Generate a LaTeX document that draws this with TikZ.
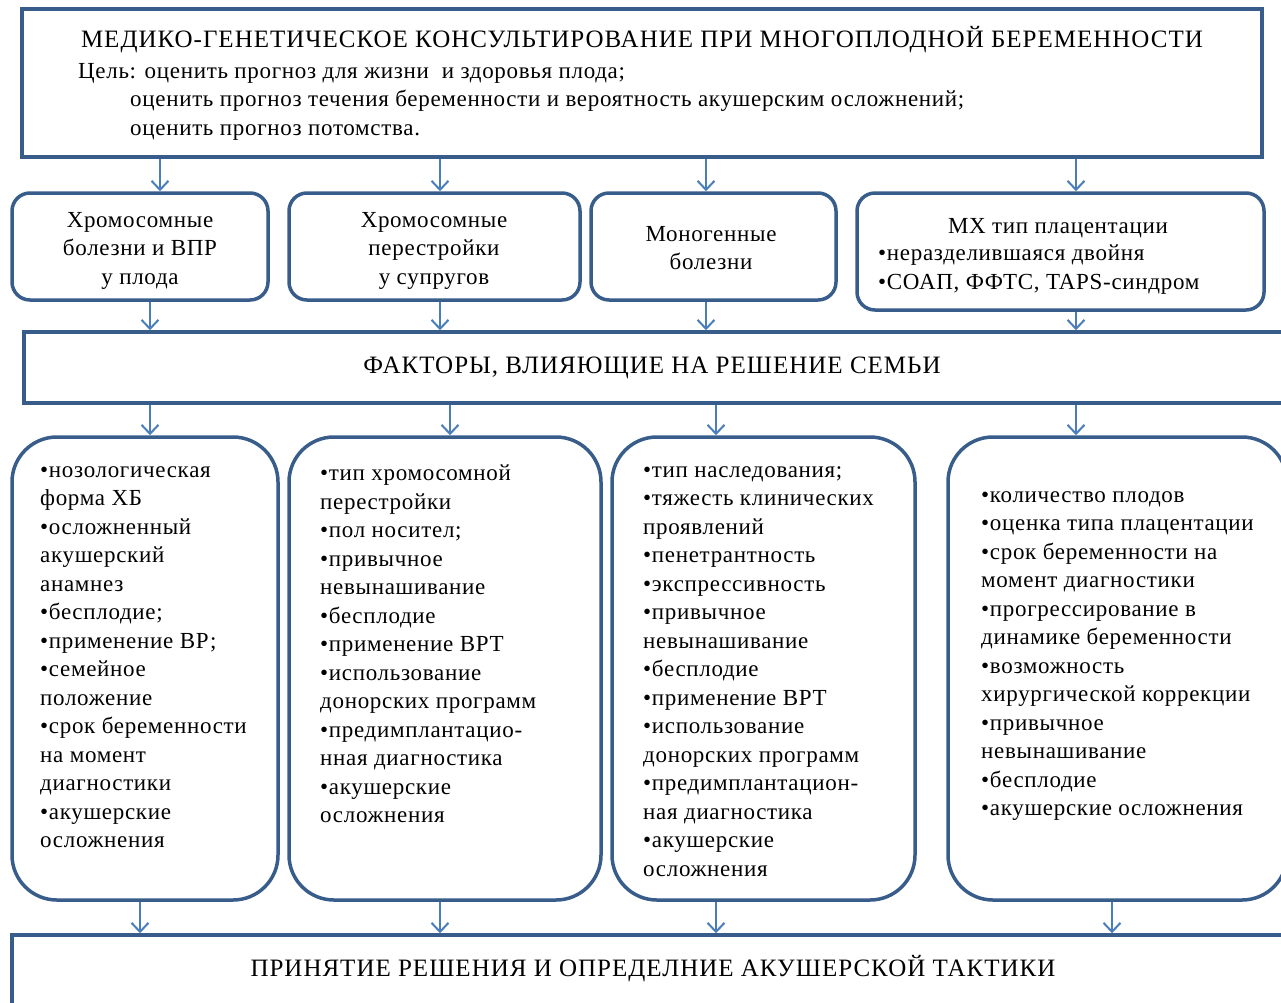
\documentclass[tikz,border=0pt]{standalone}
\usepackage{fontspec}
\setmainfont{Liberation Serif}
\newfontfamily\boxfont[LetterSpace=3]{Liberation Serif}
\newfontfamily\headfont[LetterSpace=4]{Liberation Serif}
\usetikzlibrary{arrows.meta}
\definecolor{boxline}{RGB}{56,93,138}
\definecolor{arrowline}{RGB}{74,126,187}

\tikzset{
  plainbox/.style={draw=boxline, line width=3.5pt, fill=white, rectangle, inner sep=0pt},
  roundbox/.style={plainbox, rounded corners=18pt},
  bigbox/.style={plainbox, rounded corners=45pt},
  txt/.style={inner sep=0pt, font=\boxfont\fontsize{23}{28.5}\selectfont, align=left, execute at begin node=\strut},
  ctxt/.style={txt, align=center},
  head/.style={inner sep=0pt, font=\headfont\fontsize{25}{28.5}\selectfont},
  arr/.style={draw=arrowline, line width=2pt, -{Straight Barb[length=9pt,width=17pt]}}
}

\begin{document}
\begin{tikzpicture}[x=1pt, y=-1pt]
    \useasboundingbox (0,0) rectangle (1281,1002);

    % First, locate each of the boxes and name them
        \node[plainbox, minimum width=1240pt, minimum height=148pt] (top) at (642,83) {};
        \node[roundbox, minimum width=256pt, minimum height=107pt] (fetus) at (140,246.5) {};
        \node[roundbox, minimum width=291pt, minimum height=107pt] (spouses) at (434.5,246.5) {};
        \node[roundbox, minimum width=245pt, minimum height=107pt] (mono) at (713.5,246.5) {};
        \node[roundbox, minimum width=407pt, minimum height=117pt] (mc) at (1060.5,251.5) {};
        \node[plainbox, minimum width=1276pt, minimum height=71pt] (factors) at (662,367.5) {};
        \node[bigbox, minimum width=266pt, minimum height=463pt] (fone) at (145,668.5) {};
        \node[bigbox, minimum width=312pt, minimum height=463pt] (ftwo) at (445,668.5) {};
        \node[bigbox, minimum width=303pt, minimum height=463pt] (fthree) at (763.5,668.5) {};
        \node[bigbox, minimum width=339pt, minimum height=463pt] (ffour) at (1117.5,668.5) {};
        \node[plainbox, minimum width=1288pt, minimum height=85pt] (decision) at (656,977.5) {};

    % Then the texts inside them
        \node[head] (toptitle) at (642,40) {МЕДИКО-ГЕНЕТИЧЕСКОЕ КОНСУЛЬТИРОВАНИЕ ПРИ МНОГОПЛОДНОЙ БЕРЕМЕННОСТИ};
        \node[txt, anchor=north west] (goal) at (78,63) {Цель: оценить прогноз для жизни~~и здоровья плода;\\
            \hspace*{52pt}оценить прогноз течения беременности и вероятность акушерским осложнений;\\
            \hspace*{52pt}оценить прогноз потомства.};
        \node[ctxt, anchor=north] (fetustext) at (140,212) {Хромосомные\\болезни и ВПР\\у плода};
        \node[ctxt, anchor=north] (spousestext) at (434,212) {Хромосомные\\перестройки\\у супругов};
        \node[ctxt, anchor=north] (monotext) at (711,226) {Моногенные\\болезни};
        \node[ctxt, anchor=north] (mctitle) at (1058,213) {МХ тип плацентации};
        \node[txt, anchor=north west] (mctext) at (878,245) {•неразделившаяся двойня\\•СОАП, ФФТС, TAPS-синдром};
        \node[head] (factorstext) at (652,368) {ФАКТОРЫ, ВЛИЯЮЩИЕ НА РЕШЕНИЕ СЕМЬИ};
        \node[txt, anchor=north west] (fonetext) at (40,466) {•нозологическая\\форма ХБ\\•осложненный\\акушерский\\анамнез\\•бесплодие;\\•применение ВР;\\•семейное\\положение\\•срок беременности\\на момент\\диагностики\\•акушерские\\осложнения};
        \node[txt, anchor=north west] (ftwotext) at (320,465) {•тип хромосомной\\перестройки\\•пол носител;\\•привычное\\невынашивание\\•бесплодие\\•применение ВРТ\\•использование\\донорских программ\\•предимплантацио-\\нная диагностика\\•акушерские\\осложнения};
        \node[txt, anchor=north west] (fthreetext) at (643,466) {•тип наследования;\\•тяжесть клинических\\проявлений\\•пенетрантность\\•экспрессивность\\•привычное\\невынашивание\\•бесплодие\\•применение ВРТ\\•использование\\донорских программ\\•предимплантацион-\\ная диагностика\\•акушерские\\осложнения};
        \node[txt, anchor=north west] (ffourtext) at (981,491) {•количество плодов\\•оценка типа плацентации\\•срок беременности на\\момент диагностики\\•прогрессирование в\\динамике беременности\\•возможность\\хирургической коррекции\\•привычное\\невынашивание\\•бесплодие\\•акушерские осложнения};
        \node[head] (decisiontext) at (653,969) {ПРИНЯТИЕ РЕШЕНИЯ И ОПРЕДЕЛНИЕ АКУШЕРСКОЙ ТАКТИКИ};

    % Where the arrows run
        \coordinate (xa) at (160,0);
        \coordinate (xb) at (440,0);
        \coordinate (xc) at (706,0);
        \coordinate (xd) at (1076,0);
        \coordinate (xe) at (150,0);
        \coordinate (xf) at (450,0);
        \coordinate (xg) at (716,0);
        \coordinate (xh) at (140,0);
        \coordinate (xi) at (1112,0);

    % Now draw the arrows:
        \draw[arr] (xa |- top.south) -- (xa |- fetus.north);
        \draw[arr] (xb |- top.south) -- (xb |- spouses.north);
        \draw[arr] (xc |- top.south) -- (xc |- mono.north);
        \draw[arr] (xd |- top.south) -- (xd |- mc.north);
        \draw[arr] (xe |- fetus.south) -- (xe |- factors.north);
        \draw[arr] (xb |- spouses.south) -- (xb |- factors.north);
        \draw[arr] (xc |- mono.south) -- (xc |- factors.north);
        \draw[arr] (xd |- mc.south) -- (xd |- factors.north);
        \draw[arr] (xe |- factors.south) -- (xe |- fone.north);
        \draw[arr] (xf |- factors.south) -- (xf |- ftwo.north);
        \draw[arr] (xg |- factors.south) -- (xg |- fthree.north);
        \draw[arr] (xd |- factors.south) -- (xd |- ffour.north);
        \draw[arr] (xh |- fone.south) -- (xh |- decision.north);
        \draw[arr] (xb |- ftwo.south) -- (xb |- decision.north);
        \draw[arr] (xg |- fthree.south) -- (xg |- decision.north);
        \draw[arr] (xi |- ffour.south) -- (xi |- decision.north);
\end{tikzpicture}
\end{document}
